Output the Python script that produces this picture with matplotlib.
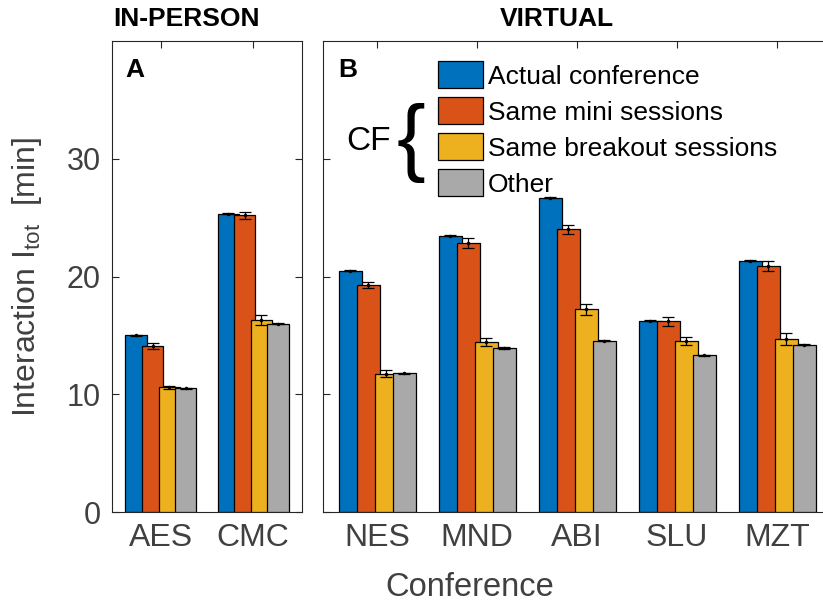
import matplotlib
matplotlib.use("Agg")
import matplotlib.pyplot as plt
from matplotlib.patches import Rectangle

plt.rcParams['font.family'] = ['Liberation Sans', 'DejaVu Sans']
plt.rcParams['mathtext.fontset'] = 'custom'
plt.rcParams['mathtext.rm'] = 'Liberation Sans'
plt.rcParams['mathtext.it'] = 'Liberation Sans'

# in-person conferences
conf_a = ['AES', 'CMC']
actual_a = [15.0, 25.35]
mini_a = [14.1, 25.2]
breakout_a = [10.6, 16.3]
other_a = [10.5, 16.0]
actual_a_err = [0.05, 0.05]
mini_a_err = [0.25, 0.3]
breakout_a_err = [0.12, 0.45]
other_a_err = [0.05, 0.05]

# virtual conferences
conf_b = ['NES', 'MND', 'ABI', 'SLU', 'MZT']
actual_b = [20.5, 23.45, 26.7, 16.25, 21.35]
mini_b = [19.3, 22.85, 24.0, 16.2, 20.9]
breakout_b = [11.75, 14.45, 17.2, 14.5, 14.7]
other_b = [11.78, 13.92, 14.55, 13.3, 14.2]
actual_b_err = [0.05, 0.05, 0.05, 0.05, 0.05]
mini_b_err = [0.25, 0.42, 0.37, 0.38, 0.45]
breakout_b_err = [0.3, 0.33, 0.5, 0.33, 0.5]
other_b_err = [0.05, 0.08, 0.05, 0.05, 0.05]

series_names = ['Actual conference', 'Same mini sessions',
                'Same breakout sessions', 'Other']
colors = ['#0072BD', '#D95319', '#EDB120', '#A9A9A9']
offsets = [-0.27, -0.09, 0.09, 0.27]
bar_w = 0.23

W, H = 823, 604
fig = plt.figure(figsize=(W / 100, H / 100), dpi=100)


def px(x0, y0, x1, y1):
    return [x0 / W, 1 - y1 / H, (x1 - x0) / W, (y1 - y0) / H]


ax_a = fig.add_axes(px(112, 41, 302, 512))
ax_b = fig.add_axes(px(323, 41, 831, 512))


def draw_panel(ax, names, vals, errs, xlim):
    xs = list(range(1, len(names) + 1))
    for k in range(4):
        pos = [x + offsets[k] for x in xs]
        ax.bar(pos, vals[k], width=bar_w, color=colors[k],
               edgecolor='black', linewidth=0.9, zorder=2 + k)
    for k in range(4):
        pos = [x + offsets[k] for x in xs]
        ax.errorbar(pos, vals[k], yerr=errs[k], fmt='.', color='black',
                    markersize=3, elinewidth=0.9, capsize=4, capthick=0.9,
                    zorder=10)
    ax.set_xlim(*xlim)
    ax.set_ylim(0, 40)
    ax.set_xticks(xs)
    ax.set_xticklabels(names)
    ax.set_yticks([0, 10, 20, 30])
    ax.tick_params(direction='in', length=5, width=0.8, top=True, right=True,
                   labelsize=22, labelcolor='#404040', color='#262626', pad=8)
    ax.tick_params(axis='x', labelsize=23)
    for s in ax.spines.values():
        s.set_color('#262626')
        s.set_linewidth(0.8)


draw_panel(ax_a, conf_a, [actual_a, mini_a, breakout_a, other_a],
           [actual_a_err, mini_a_err, breakout_a_err, other_a_err],
           (0.47, 2.53))
draw_panel(ax_b, conf_b, [actual_b, mini_b, breakout_b, other_b],
           [actual_b_err, mini_b_err, breakout_b_err, other_b_err],
           (0.46, 5.54))
ax_b.tick_params(labelleft=False)

ax_a.set_ylabel('Interaction I$_{\\mathrm{tot}}$  [min]', fontsize=23,
                color='#404040')
ax_a.yaxis.set_label_coords((44 - 112) / 190, 0.5)

fig.text(470 / W, 1 - 587 / H, 'Conference', fontsize=23.5, color='#404040',
         ha='center', va='center')

fig.text(113 / W, 1 - 19 / H, 'IN-PERSON', fontsize=19, fontweight='bold',
         ha='left', va='center')
fig.text(557 / W, 1 - 19 / H, 'VIRTUAL', fontsize=19, fontweight='bold',
         ha='center', va='center')
fig.text(125 / W, 1 - 70 / H, 'A', fontsize=19, fontweight='bold',
         ha='left', va='center')
fig.text(338 / W, 1 - 70 / H, 'B', fontsize=19, fontweight='bold',
         ha='left', va='center')

# legend drawn by hand so the CF brace can sit next to it
for i, (name, c) in enumerate(zip(series_names, colors)):
    y0 = 61 + 36 * i
    fig.patches.append(Rectangle((438 / W, 1 - (y0 + 27) / H), 45 / W, 27 / H,
                                 transform=fig.transFigure, facecolor=c,
                                 edgecolor='black', linewidth=0.9))
    fig.text(488 / W, 1 - (y0 + 13.5) / H, name, fontsize=19,
             ha='left', va='center_baseline')

fig.text(346 / W, 1 - 138 / H, 'CF', fontsize=24, ha='left',
         va='center_baseline')
fig.text(411 / W, 1 - 143 / H, '{', fontsize=62, ha='center', va='center')

fig.savefig('out.png', dpi=100)
